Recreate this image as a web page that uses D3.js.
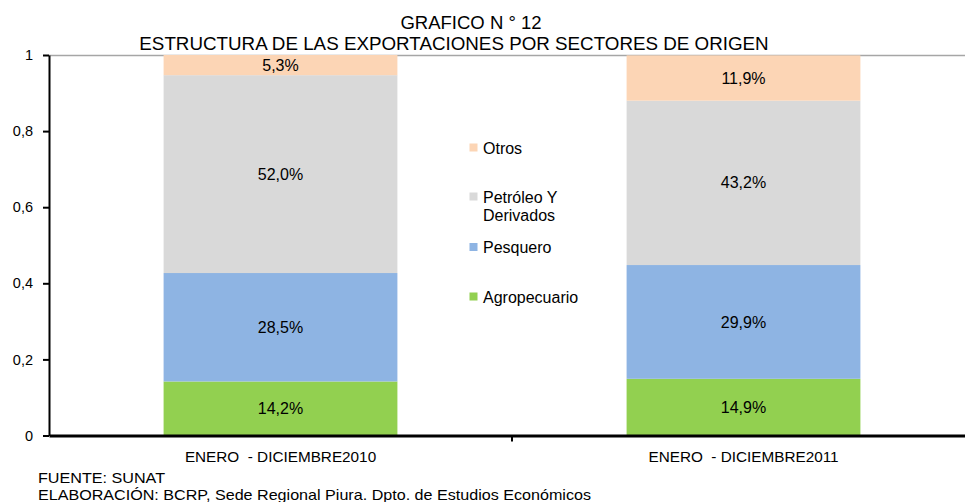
<!DOCTYPE html>
<html>
<head>
<meta charset="utf-8">
<script src="https://cdn.jsdelivr.net/npm/d3@7"></script>
<style>
  body { margin: 0; background: #fff; }
  text { font-family: "Liberation Sans", Arial, sans-serif; fill: #000; }
</style>
</head>
<body>
<div id="chart"></div>
<script>
// data
var periods = ["ENERO  - DICIEMBRE2010", "ENERO  - DICIEMBRE2011"];
var sectors = ["Agropecuario", "Pesquero", "Petróleo Y Derivados", "Otros"];
var agropecuario = [14.2, 14.9];
var pesquero = [28.5, 29.9];
var petroleo = [52.0, 43.2];
var otros = [5.3, 11.9];
var yTicks = [0, 0.2, 0.4, 0.6, 0.8, 1];

var colors = ["#92d050", "#8eb4e3", "#d9d9d9", "#fcd5b5"];

var width = 965, height = 502;
var margin = { top: 55, right: -10, bottom: 66.5, left: 49 };
var w = width - margin.left - margin.right,
    h = height - margin.top - margin.bottom;

var svg = d3.select("#chart").append("svg")
    .attr("width", width)
    .attr("height", height);

// titles
svg.append("text")
    .attr("x", 471).attr("y", 29)
    .attr("text-anchor", "middle")
    .style("font-size", "18.5px")
    .text("GRAFICO N ° 12");
svg.append("text")
    .attr("x", 454).attr("y", 50)
    .attr("text-anchor", "middle")
    .style("font-size", "18.8px")
    .text("ESTRUCTURA DE LAS EXPORTACIONES POR SECTORES DE ORIGEN");

var g = svg.append("g")
    .attr("transform", "translate(" + margin.left + "," + margin.top + ")");

var table = periods.map(function(p, i) {
    return {
        period: p,
        "Agropecuario": agropecuario[i] / 100,
        "Pesquero": pesquero[i] / 100,
        "Petróleo Y Derivados": petroleo[i] / 100,
        "Otros": otros[i] / 100
    };
});
var stacked = d3.stack().keys(sectors)(table);

var x = d3.scaleBand()
    .domain(periods)
    .range([0, w])
    .paddingInner(0.495)
    .paddingOuter(0.2475);

var y = d3.scaleLinear()
    .domain([0, 1])
    .range([h, 0]);

// top border of plot area
g.append("line")
    .attr("x1", 0).attr("x2", w)
    .attr("y1", 0.5).attr("y2", 0.5)
    .attr("stroke", "#a6a6a6")
    .attr("stroke-width", 1.5);

var layers = g.selectAll(".layer")
    .data(stacked)
    .enter().append("g")
    .attr("fill", function(d, i) { return colors[i]; });

layers.selectAll("rect")
    .data(function(d) { return d; })
    .enter().append("rect")
    .attr("x", function(d) { return x(d.data.period); })
    .attr("width", x.bandwidth())
    .attr("y", function(d) { return y(d[1]); })
    .attr("height", function(d) { return y(d[0]) - y(d[1]); });

layers.selectAll("text")
    .data(function(d) { return d.map(function(v) { return { v: v, key: d.key }; }); })
    .enter().append("text")
    .attr("x", function(d) { return x(d.v.data.period) + x.bandwidth() / 2; })
    .attr("y", function(d) { return (y(d.v[0]) + y(d.v[1])) / 2; })
    .attr("dy", "0.35em")
    .attr("text-anchor", "middle")
    .style("font-size", "16px")
    .text(function(d) {
        return d3.format(".1f")((d.v[1] - d.v[0]) * 100).replace(".", ",") + "%";
    });

// y axis
var yAxis = g.append("g")
    .call(d3.axisLeft(y).tickValues(yTicks).tickSize(6).tickSizeOuter(0)
        .tickFormat(function(d) { return String(d).replace(".", ","); }));
yAxis.select(".domain").attr("stroke", "#000").attr("stroke-width", 2);
yAxis.selectAll(".tick line").attr("stroke", "#000").attr("stroke-width", 2);
yAxis.selectAll(".tick text")
    .attr("x", -16)
    .style("font-size", "14.5px")
    .style("font-family", "Liberation Sans, Arial, sans-serif");

// x axis
var xAxis = g.append("g")
    .attr("transform", "translate(0," + h + ")")
    .call(d3.axisBottom(x).tickSize(0));
xAxis.select(".domain").attr("stroke", "#000").attr("stroke-width", 3);
xAxis.selectAll(".tick text")
    .attr("y", 16)
    .style("white-space", "pre")
    .style("font-size", "15.3px")
    .style("font-family", "Liberation Sans, Arial, sans-serif");
// divider tick between the two categories
xAxis.append("line")
    .attr("x1", x(periods[1]) - x.step() * x.paddingInner() / 2)
    .attr("x2", x(periods[1]) - x.step() * x.paddingInner() / 2)
    .attr("y1", 0).attr("y2", 6)
    .attr("stroke", "#000").attr("stroke-width", 2);

// legend
var legendItems = [
    { key: "Otros", lines: ["Otros"], y: 148, c: colors[3] },
    { key: "Petróleo Y Derivados", lines: ["Petróleo Y", "Derivados"], y: 197, c: colors[2] },
    { key: "Pesquero", lines: ["Pesquero"], y: 247.5, c: colors[1] },
    { key: "Agropecuario", lines: ["Agropecuario"], y: 297, c: colors[0] }
];
var legend = svg.append("g");
legendItems.forEach(function(it) {
    legend.append("rect")
        .attr("x", 469.5).attr("y", it.y - 4.5)
        .attr("width", 8).attr("height", 8)
        .attr("fill", it.c);
    it.lines.forEach(function(l, j) {
        legend.append("text")
            .attr("x", 483).attr("y", it.y + j * 18.5)
            .attr("dy", "0.35em")
            .style("font-size", "16px")
            .text(l);
    });
});

// footer
svg.append("text").attr("x", 38).attr("y", 482.5)
    .attr("textLength", 127).attr("lengthAdjust", "spacingAndGlyphs")
    .style("font-size", "15px").text("FUENTE: SUNAT");
svg.append("text").attr("x", 38).attr("y", 499.5)
    .attr("textLength", 553).attr("lengthAdjust", "spacingAndGlyphs")
    .style("font-size", "15px")
    .text("ELABORACIÓN: BCRP, Sede Regional Piura. Dpto. de Estudios Económicos");
</script>
</body>
</html>
